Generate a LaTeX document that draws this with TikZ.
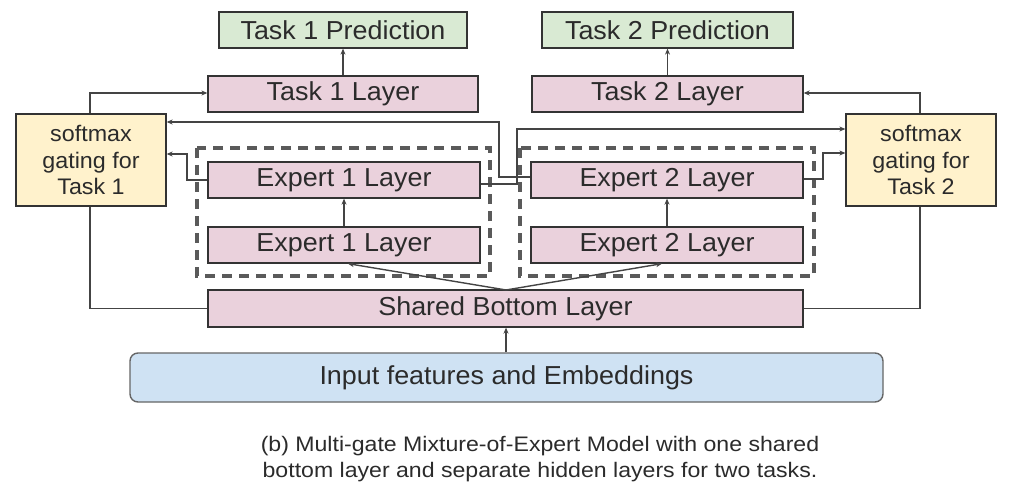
\documentclass[tikz,border=0pt]{standalone}
\usepackage{fontspec}
\setmainfont[FakeStretch=1.035]{Liberation Sans}
\newfontfamily\capfont[FakeStretch=1.1]{Liberation Sans}
\usetikzlibrary{arrows.meta}
\definecolor{pinkf}{HTML}{EAD1DC}
\definecolor{greenf}{HTML}{D9EAD3}
\definecolor{yellowf}{HTML}{FFF2CC}
\definecolor{bluef}{HTML}{CFE2F3}
\definecolor{edge}{HTML}{333333}
\definecolor{conn}{HTML}{444444}
\definecolor{dashc}{HTML}{5A5A5A}
\definecolor{inedge}{HTML}{666666}
\definecolor{txt}{HTML}{2B2B2B}
\tikzset{
  boxbase/.style={draw=edge, line width=1.3pt, inner sep=0pt, text=txt,
    font=\fontsize{26}{30}\selectfont},
  pinkbox/.style={boxbase, fill=pinkf, minimum height=36pt},
  greenbox/.style={boxbase, fill=greenf, minimum height=36pt},
  gatebox/.style={boxbase, fill=yellowf, minimum width=150pt, minimum height=92pt,
    align=center, font=\fontsize{22.5}{26.7}\selectfont},
  inbox/.style={boxbase, draw=inedge, line width=1.4pt, fill=bluef, rounded corners=8pt},
  dashbox/.style={draw=dashc, line width=3.2pt, dash pattern=on 10pt off 7pt},
  conn/.style={draw=conn, line width=1.4pt},
  arr/.style={conn, -{Stealth[length=6pt,width=5pt]}},
}
\begin{document}
\begin{tikzpicture}[x=1pt,y=-1pt]
\useasboundingbox (0,0) rectangle (1015,492);
\fill[white] (0,0) rectangle (1015,492);
% dashed expert groups
\draw[dashbox] (197,148) rectangle (490,276);
\draw[dashbox] (520,148) rectangle (814,276);
% nodes
\node[greenbox, minimum width=248pt] (p1) at (343,30) {Task 1 Prediction};
\node[greenbox, minimum width=251pt] (p2) at (667.5,30) {Task 2 Prediction};
\node[pinkbox, minimum width=270pt] (t1) at (343,94) {Task 1 Layer};
\node[pinkbox, minimum width=271pt] (t2) at (667.5,94) {Task 2 Layer};
\node[pinkbox, minimum width=272pt] (e1u) at (344,180) {Expert 1 Layer};
\node[pinkbox, minimum width=272pt] (e1l) at (344,245) {Expert 1 Layer};
\node[pinkbox, minimum width=272pt] (e2u) at (667,180) {Expert 2 Layer};
\node[pinkbox, minimum width=272pt] (e2l) at (667,245) {Expert 2 Layer};
\node[gatebox] (g1) at (91,160) {softmax\\gating for\\Task 1};
\node[gatebox] (g2) at (921,160) {softmax\\gating for\\Task 2};
\node[pinkbox, minimum width=595pt, minimum height=37pt] (sb) at (505.5,308.5) {Shared Bottom Layer};
\node[inbox, minimum width=753pt, minimum height=49pt] (in) at (506.5,377.5) {Input features and Embeddings};
\node[text=txt, align=center, font=\capfont\fontsize{21}{26}\selectfont] (cap) at (540,459)
  {(b) Multi-gate Mixture-of-Expert Model with one shared\\bottom layer and separate hidden layers for two tasks.};
% vertical flows
\draw[arr] (t1.north) -- (p1.south);
\draw[arr] (t2.north) -- (p2.south);
\draw[arr] (e1l.north) -- (e1u.south);
\draw[arr] (e2l.north) -- (e2u.south);
\draw[arr] (in.north -| 506,0) -- (sb.south -| 506,0);
\coordinate (sbtop) at (506,290);
\draw[arr] (sbtop) -- ([xshift=4pt]e1l.south);
\draw[arr] (sbtop) -- ([xshift=-5pt]e2l.south);
% gate to task layers
\draw[arr] (g1.north -| 90,0) |- (t1.west |- 0,93);
\draw[arr] (g2.north -| 920,0) |- (t2.east |- 0,93);
% shared bottom to gates
\draw[conn] (g1.south -| 90,0) |- (sb.west);
\draw[conn] (g2.south -| 920,0) |- (sb.east);
% experts to gates
\draw[arr] (e1u.west |- 0,180) -- (187,180) |- (g1.east |- 0,154);
\draw[arr] (e2u.east |- 0,179) -- (823,179) |- (g2.west |- 0,153);
\draw[arr] (e2u.west |- 0,177) -- (499,177) |- (g1.east |- 0,122);
\draw[arr] (e1u.east |- 0,184) -- (517,184) |- (g2.west |- 0,129);
\end{tikzpicture}
\end{document}
